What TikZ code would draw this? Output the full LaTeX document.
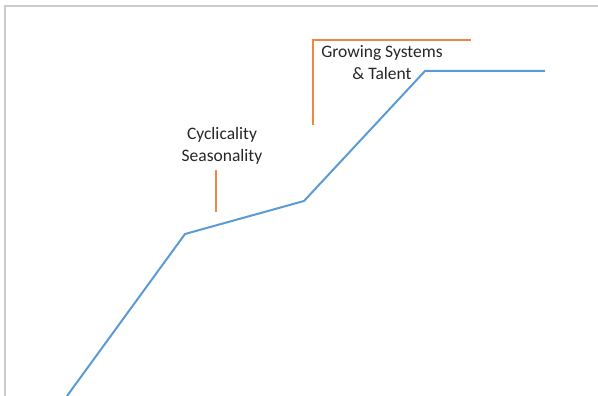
\documentclass[tikz,border=0pt]{standalone}
\usepackage{fontspec}
\setmainfont{Carlito}
\definecolor{trendblue}{RGB}{91,155,213}
\definecolor{markorange}{RGB}{238,135,70}
\begin{document}
\begin{tikzpicture}[x=1pt,y=-1pt,
	trend/.style={trendblue,line width=2pt},
	marker/.style={markorange,line width=2pt},
	label/.style={font=\fontsize{17.5}{22}\selectfont,text=black!85,align=center,inner sep=0pt}]
\useasboundingbox (0,0) rectangle (598,396);
\draw[black!20,line width=1.5pt] (5,396) -- (5,6) -- (598,6);
\coordinate (start) at (67,396);
\coordinate (k1) at (185,234);
\coordinate (k2) at (304,201);
\coordinate (k3) at (425,71);
\coordinate (end) at (545,71);
\draw[trend] (start) -- (k1) -- (k2) -- (k3) -- (end);
\node[label] (cyc) at (222,146) {Cyclicality\\Seasonality};
\coordinate (c1) at (216,170);
\coordinate (c2) at (216,212);
\draw[marker] (c1) -- (c2);
\node[label] (grow) at (382,63) {Growing Systems\\\& Talent};
\coordinate (g1) at (313,125);
\coordinate (g2) at (313,40);
\coordinate (g3) at (471,40);
\draw[marker] (g1) -- (g2) -- (g3);
\end{tikzpicture}
\end{document}
